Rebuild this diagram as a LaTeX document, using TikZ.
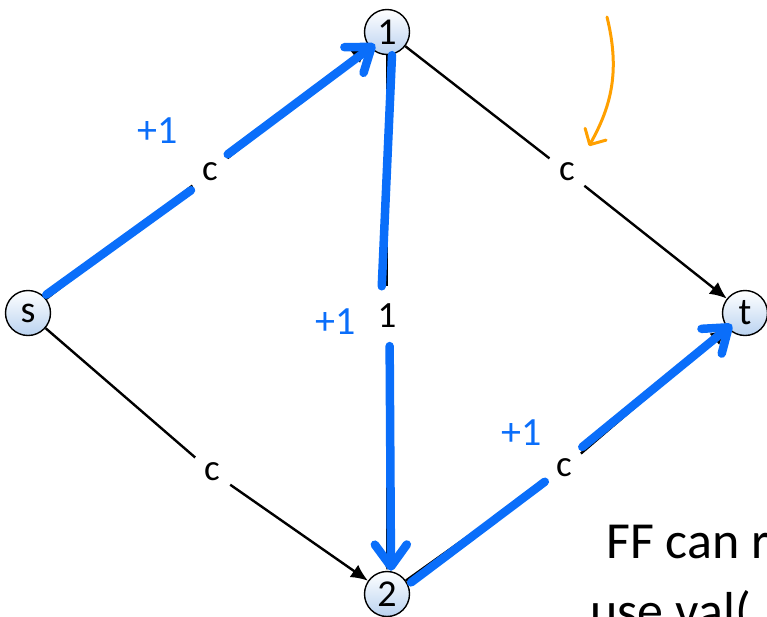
\documentclass[tikz,border=0pt]{standalone}
\usepackage{fontspec}
\setmainfont{Carlito}
\usepackage{tikz}
\usetikzlibrary{arrows.meta}
\usepackage{xcolor}
\definecolor{penblue}{RGB}{10,110,250}
\definecolor{penorange}{RGB}{255,160,0}
\definecolor{vertblue}{RGB}{186,210,240}

\begin{document}
\begin{tikzpicture}[x=1pt, y=-1pt,
    vert/.style={circle, draw, line width=1.4pt, minimum size=45pt, inner sep=0pt,
        top color=white, bottom color=vertblue, font=\fontsize{38}{38}\selectfont},
    lbl/.style={circle, minimum size=44pt, inner sep=0pt, font=\fontsize{37}{37}\selectfont},
    edge/.style={line width=2.4pt},
    arr/.style={-{Latex[length=17pt, width=15pt]}},
    pen/.style={penblue, line width=8.5pt, line cap=round, line join=round},
    penarr/.style={pen, -{Straight Barb[length=22pt, width=32pt, round]}},
    note/.style={penblue, font=\fontsize{40}{40}\selectfont},
    scrawl/.style={font=\fontsize{52}{52}\selectfont, anchor=base west, inner sep=0pt}]
        \useasboundingbox (0,0) rectangle (767,616);

        % Vertices
        \node[vert] (s)  at (28,313)  {s};
        \node[vert] (v1) at (387,32)  {1};
        \node[vert] (t)  at (745,313) {t};
        \node[vert] (v2) at (387,594) {2};

        % Capacity labels
        \node[lbl] (c1) at (210,172) {c};
        \node[lbl] (c2) at (567,172) {c};
        \node[lbl] (c3) at (212,472) {c};
        \node[lbl] (c4) at (564,468) {c};
        \node[lbl, minimum size=60pt] (m) at (387,316) {1};

        % Edges
        \draw[edge] (s) -- (c1);   \draw[edge, arr] (c1) -- (v1);
        \draw[edge] (v1) -- (c2);  \draw[edge, arr] (c2) -- (t);
        \draw[edge] (s) -- (c3);   \draw[edge, arr] (c3) -- (v2);
        \draw[edge] (v2) -- (c4);  \draw[edge, arr] (c4) -- (t);
        \draw[edge] (v1) -- (m);   \draw[edge, arr] (m) -- (v2);

        % Augmenting path s-1-2-t
        \draw[pen] ([yshift=4pt]s.38) -- ([shift={(-2,4)}]c1.220);
        \draw[penarr] ([shift={(2,-2)}]c1.45) -- ([shift={(7,-1)}]v1.215);
        \draw[pen] ([xshift=5pt]v1.south) -- (m.100);
        \draw[penarr] (m.275) -- ([xshift=4pt]v2.north);
        \draw[pen] ([shift={(4,0)}]v2.30) -- ([shift={(-1,1)}]c4.215);
        \draw[penarr] ([shift={(4,-4)}]c4.50) -- ([shift={(7,0)}]t.210);

        \node[note] (p1) at (158,131) {+1};
        \node[note] (p2) at (336,322) {+1};
        \node[note] (p3) at (522,433) {+1};

        % Side remarks
        \coordinate (o1) at (607,17);
        \coordinate (o2) at (589,146);
        \draw[penorange, line width=3pt, line cap=round,
            -{Straight Barb[length=12pt, width=24pt, round]}]
            (o1) .. controls (620,70) and (612,105) .. (o2);
        \node[scrawl] (r1) at (606,558) {FF can r};
        \node[scrawl] (r2) at (590,628) {use val(};
    \end{tikzpicture}
\end{document}
